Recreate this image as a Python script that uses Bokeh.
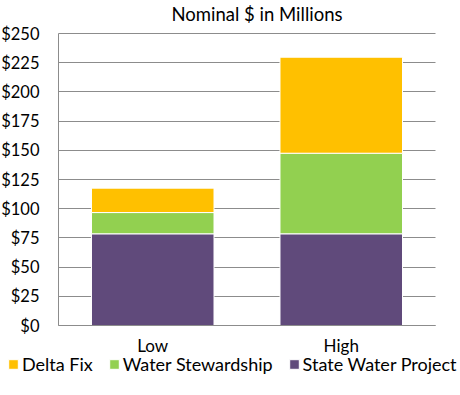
from bokeh.plotting import figure
from bokeh.models import (ColumnDataSource, Range1d, Legend, LegendItem, Label,
                          NumeralTickFormatter, FixedTicker)
from bokeh.embed import file_html
from bokeh.resources import INLINE

# ---- data ----
categories = ["Low", "High"]
state_water_project = [78.5, 78.5]
water_stewardship = [18.2, 69.0]
delta_fix = [20.9, 82.2]
y_ticks = [0, 25, 50, 75, 100, 125, 150, 175, 200, 225, 250]
title_text = "Nominal $ in Millions"

series_names = ["state_water_project", "water_stewardship", "delta_fix"]
series_labels = ["State Water Project", "Water Stewardship", "Delta Fix"]
colors = ["#604A7B", "#92D050", "#FFC000"]

x_pos = [i + 0.5 for i in range(len(categories))]
source = ColumnDataSource(data=dict(
    x=x_pos,
    state_water_project=state_water_project,
    water_stewardship=water_stewardship,
    delta_fix=delta_fix,
))

# ---- layout constants (pixels) ----
W, H = 460, 395
TOP_PX = 33             # pixel where y = 250
ZERO_PX = 325           # pixel where y = 0
PLOT_LEFT, PLOT_RIGHT = 58, 435
y_max = y_ticks[-1]
px_per_y = (ZERO_PX - TOP_PX) / y_max
y_start = -(H - ZERO_PX) / px_per_y
y_end = y_max + TOP_PX / px_per_y
px_per_x = (PLOT_RIGHT - PLOT_LEFT) / len(categories)
x_start = -PLOT_LEFT / px_per_x
x_end = x_start + W / px_per_x

FONT = "Lato"
GRID = "#8C8C8C"

p = figure(x_range=Range1d(x_start, x_end), y_range=Range1d(y_start, y_end),
           width=W, height=H, output_backend="svg", toolbar_location=None,
           min_border=0)
p.title.visible = False

p.outline_line_color = None
p.background_fill_color = "white"
p.border_fill_color = "white"

# grid
p.xgrid.grid_line_color = None
p.ygrid.grid_line_color = GRID
p.ygrid.grid_line_width = 1
grid_ok = True
try:
    p.ygrid.cross_bounds = (0, len(categories))
except Exception:
    grid_ok = False
if not grid_ok:
    p.ygrid.grid_line_color = None
    p.segment(x0=[0] * len(y_ticks), x1=[len(categories)] * len(y_ticks),
              y0=y_ticks, y1=y_ticks, line_color=GRID, line_width=1)

renderers = p.vbar_stack(series_names, x="x", width=0.65, source=source,
                         color=colors, line_color="white", line_width=1)

# axes
p.yaxis.fixed_location = 0
p.yaxis.bounds = (0, y_max)
p.yaxis.ticker = FixedTicker(ticks=y_ticks)
p.yaxis.formatter = NumeralTickFormatter(format="$0")
p.yaxis.major_label_standoff = 19
p.yaxis.major_label_text_font_size = "16.5px"

p.xaxis.fixed_location = 0
p.xaxis.bounds = (0, len(categories))
p.xaxis.ticker = FixedTicker(ticks=x_pos)
p.xaxis.major_label_overrides = {x: c for x, c in zip(x_pos, categories)}
p.xaxis.major_label_standoff = 9
p.xaxis.major_label_text_font_size = "17px"

for ax in (p.xaxis[0], p.yaxis[0]):
    ax.axis_line_color = GRID
    ax.axis_line_width = 1
    ax.major_tick_line_color = None
    ax.minor_tick_line_color = None
    ax.major_tick_out = 0
    ax.major_tick_in = 0
    ax.minor_tick_out = 0
    ax.minor_tick_in = 0
    ax.major_label_text_font = FONT
    ax.major_label_text_color = "#000000"

# title (drawn as a label at the top of the canvas)
p.add_layout(Label(x=171, y=H - 13, x_units="screen", y_units="screen",
                   text=title_text, text_font=FONT, text_font_size="18.5px",
                   text_color="#000000", text_baseline="alphabetic", text_align="left"))

items = [LegendItem(label=series_labels[i], renderers=[renderers[i]]) for i in (2, 1, 0)]
legend = Legend(items=items, orientation="horizontal", location=(7, 20),
                padding=0, margin=0, spacing=15, label_standoff=3,
                glyph_width=12, glyph_height=12,
                label_text_font=FONT, label_text_font_size="18px",
                label_text_color="#000000",
                border_line_color=None, background_fill_alpha=0)
p.add_layout(legend, "center")

open("out.html", "w").write(file_html(p, INLINE))
